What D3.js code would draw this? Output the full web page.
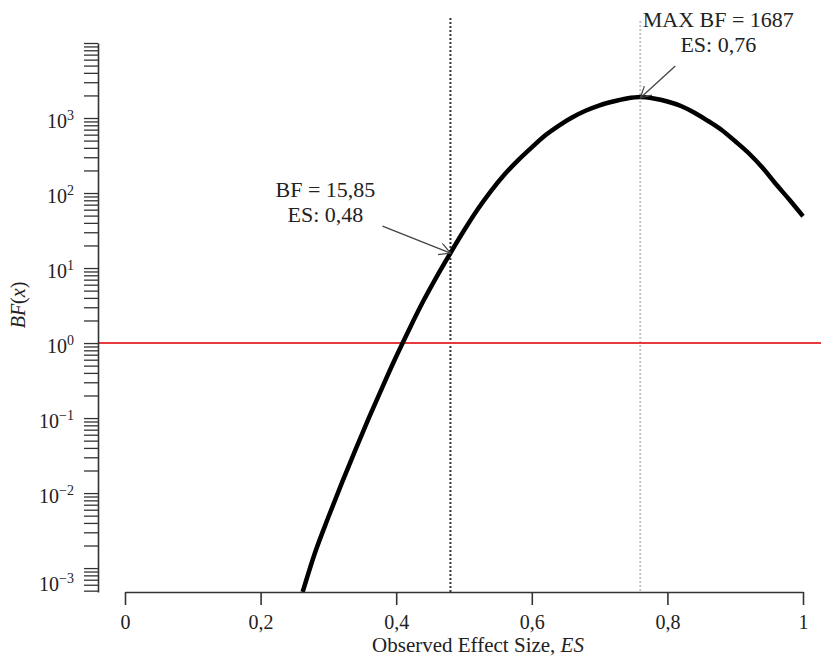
<!DOCTYPE html>
<html>
<head>
<meta charset="utf-8">
<script src="https://cdn.jsdelivr.net/npm/d3@7"></script>
<style>
  body { margin: 0; background: #fff; }
  svg { display: block; font-family: "Liberation Serif", "DejaVu Serif", serif; }
</style>
</head>
<body>
<div id="chart"></div>
<script>
    // curve: observed effect size vs Bayes factor
    const esValues = [0.262, 0.28, 0.30, 0.32, 0.34, 0.36, 0.38, 0.40, 0.42, 0.44, 0.46, 0.48,
        0.50, 0.52, 0.54, 0.56, 0.58, 0.60, 0.62, 0.64, 0.66, 0.68, 0.70, 0.72, 0.74, 0.76,
        0.78, 0.80, 0.82, 0.84, 0.86, 0.88, 0.90, 0.92, 0.94, 0.96, 0.98, 1.00];
    const bfValues = [0.00048, 0.00158, 0.00479, 0.0138, 0.038, 0.102, 0.263, 0.661, 1.58, 3.63, 7.76, 15.85,
        31.6, 60.3, 107, 178, 275, 407, 589, 794, 1023, 1259, 1479, 1660, 1820, 1905,
        1820, 1660, 1445, 1175, 912, 692, 490, 339, 219, 132, 81.3, 49];

    const xTicks = [0, 0.2, 0.4, 0.6, 0.8, 1];
    const xTickLabels = ["0", "0,2", "0,4", "0,6", "0,8", "1"];
    const yExponents = [-3, -2, -1, 0, 1, 2, 3];

    // annotated points
    const markerES = [0.48, 0.76];
    const markerBF = [15.85, 1687];
    const markerText = [["BF = 15,85", "ES: 0,48"], ["MAX BF = 1687", "ES: 0,76"]];
    const thresholdBF = 1;

    const width = 821, height = 657;

    const svg = d3.select("#chart").append("svg")
        .attr("width", width)
        .attr("height", height);

    const x = d3.scaleLinear().domain([0, 1]).range([125, 803]);
    const y = d3.scaleLog().domain([4.8e-4, 1e4]).range([592, 43]);

    // arrow head
    svg.append("defs").append("marker")
        .attr("id", "arrow")
        .attr("markerUnits", "userSpaceOnUse")
        .attr("markerWidth", 14).attr("markerHeight", 14)
        .attr("refX", 11).attr("refY", 6)
        .attr("orient", "auto")
        .append("path")
        .attr("d", "M0,0 L11,6 L0,12")
        .attr("fill", "none")
        .attr("stroke", "#444")
        .attr("stroke-width", 1.2);

    // vertical dotted reference lines
    svg.append("line")
        .attr("x1", x(markerES[0])).attr("x2", x(markerES[0]))
        .attr("y1", 18).attr("y2", 592)
        .attr("stroke", "#333").attr("stroke-width", 2)
        .attr("stroke-dasharray", "2,2");
    svg.append("line")
        .attr("x1", x(markerES[1])).attr("x2", x(markerES[1]))
        .attr("y1", 21).attr("y2", 592)
        .attr("stroke", "#c4c4c4").attr("stroke-width", 2)
        .attr("stroke-dasharray", "2,2");

    // BF = 1 line
    svg.append("line")
        .attr("x1", 98).attr("x2", width)
        .attr("y1", y(thresholdBF)).attr("y2", y(thresholdBF))
        .attr("stroke", "#e63a3f").attr("stroke-width", 2);

    // curve
    const line = d3.line()
        .x((d, i) => x(esValues[i]))
        .y(d => y(d))
        .curve(d3.curveMonotoneX);

    svg.append("path")
        .datum(bfValues)
        .attr("d", line)
        .attr("fill", "none")
        .attr("stroke", "#000")
        .attr("stroke-width", 4.5)
        .attr("stroke-linejoin", "round");

    // y axis
    const yAxis = svg.append("g")
        .attr("transform", "translate(98,0)")
        .call(d3.axisLeft(y).tickValues(y.ticks()).tickSize(14).tickSizeOuter(0).tickFormat(""));
    yAxis.select(".domain").attr("stroke", "#333").attr("stroke-width", 1.6);
    yAxis.selectAll(".tick line").attr("stroke", "#333").attr("stroke-width", 1.3);

    yExponents.forEach(e => {
        const t = svg.append("text")
            .attr("x", 74)
            .attr("y", y(Math.pow(10, e)) + (e === -3 ? 23 : 10))
            .attr("text-anchor", "end")
            .attr("font-size", 20)
            .attr("fill", "#222");
        t.append("tspan").text("10");
        t.append("tspan")
            .attr("dy", -8)
            .attr("font-size", 14)
            .text(e < 0 ? "\u2212" + (-e) : String(e));
    });

    // x axis
    const xAxis = svg.append("g")
        .attr("transform", "translate(0,592)")
        .call(d3.axisBottom(x).tickValues(xTicks).tickSize(13).tickSizeOuter(0)
            .tickFormat((d, i) => xTickLabels[i]));
    xAxis.select(".domain").attr("stroke", "#333").attr("stroke-width", 1.6);
    xAxis.selectAll(".tick line").attr("stroke", "#333").attr("stroke-width", 1.6);
    xAxis.selectAll(".tick text")
        .attr("y", 37).attr("dy", null)
        .attr("font-size", 20)
        .attr("font-family", "Liberation Serif, serif")
        .attr("fill", "#222");

    // axis titles
    const xTitle = svg.append("text")
        .attr("x", 478).attr("y", 652)
        .attr("text-anchor", "middle")
        .attr("font-size", 21)
        .attr("fill", "#222");
    xTitle.append("tspan").text("Observed Effect Size, ");
    xTitle.append("tspan").attr("font-style", "italic").text("ES");

    const yTitle = svg.append("text")
        .attr("transform", "translate(25,305) rotate(-90)")
        .attr("text-anchor", "middle")
        .attr("font-size", 20)
        .attr("fill", "#222");
    yTitle.append("tspan").attr("font-style", "italic").text("BF");
    yTitle.append("tspan").text("(");
    yTitle.append("tspan").attr("font-style", "italic").text("x");
    yTitle.append("tspan").text(")");

    // annotations: text offset and arrow tail relative to the arrow tip
    const textOffset = [[-125, -56], [78, -71]];
    const tailOffset = [[-68, -27], [35, -32]];

    markerES.forEach((es, i) => {
        const tx = x(es), ty = y(markerBF[i]) - (i === 1 ? 3 : 0);
        svg.append("line")
            .attr("x1", tx + tailOffset[i][0]).attr("y1", ty + tailOffset[i][1])
            .attr("x2", tx).attr("y2", ty)
            .attr("stroke", "#444").attr("stroke-width", 1.3)
            .attr("marker-end", "url(#arrow)");

        const t = svg.append("text")
            .attr("text-anchor", "middle")
            .attr("font-size", 22)
            .attr("fill", "#222");
        markerText[i].forEach((s, j) => {
            t.append("tspan")
                .attr("x", tx + textOffset[i][0])
                .attr("y", ty + textOffset[i][1] + j * 25)
                .text(s);
        });
    });
</script>
</body>
</html>
